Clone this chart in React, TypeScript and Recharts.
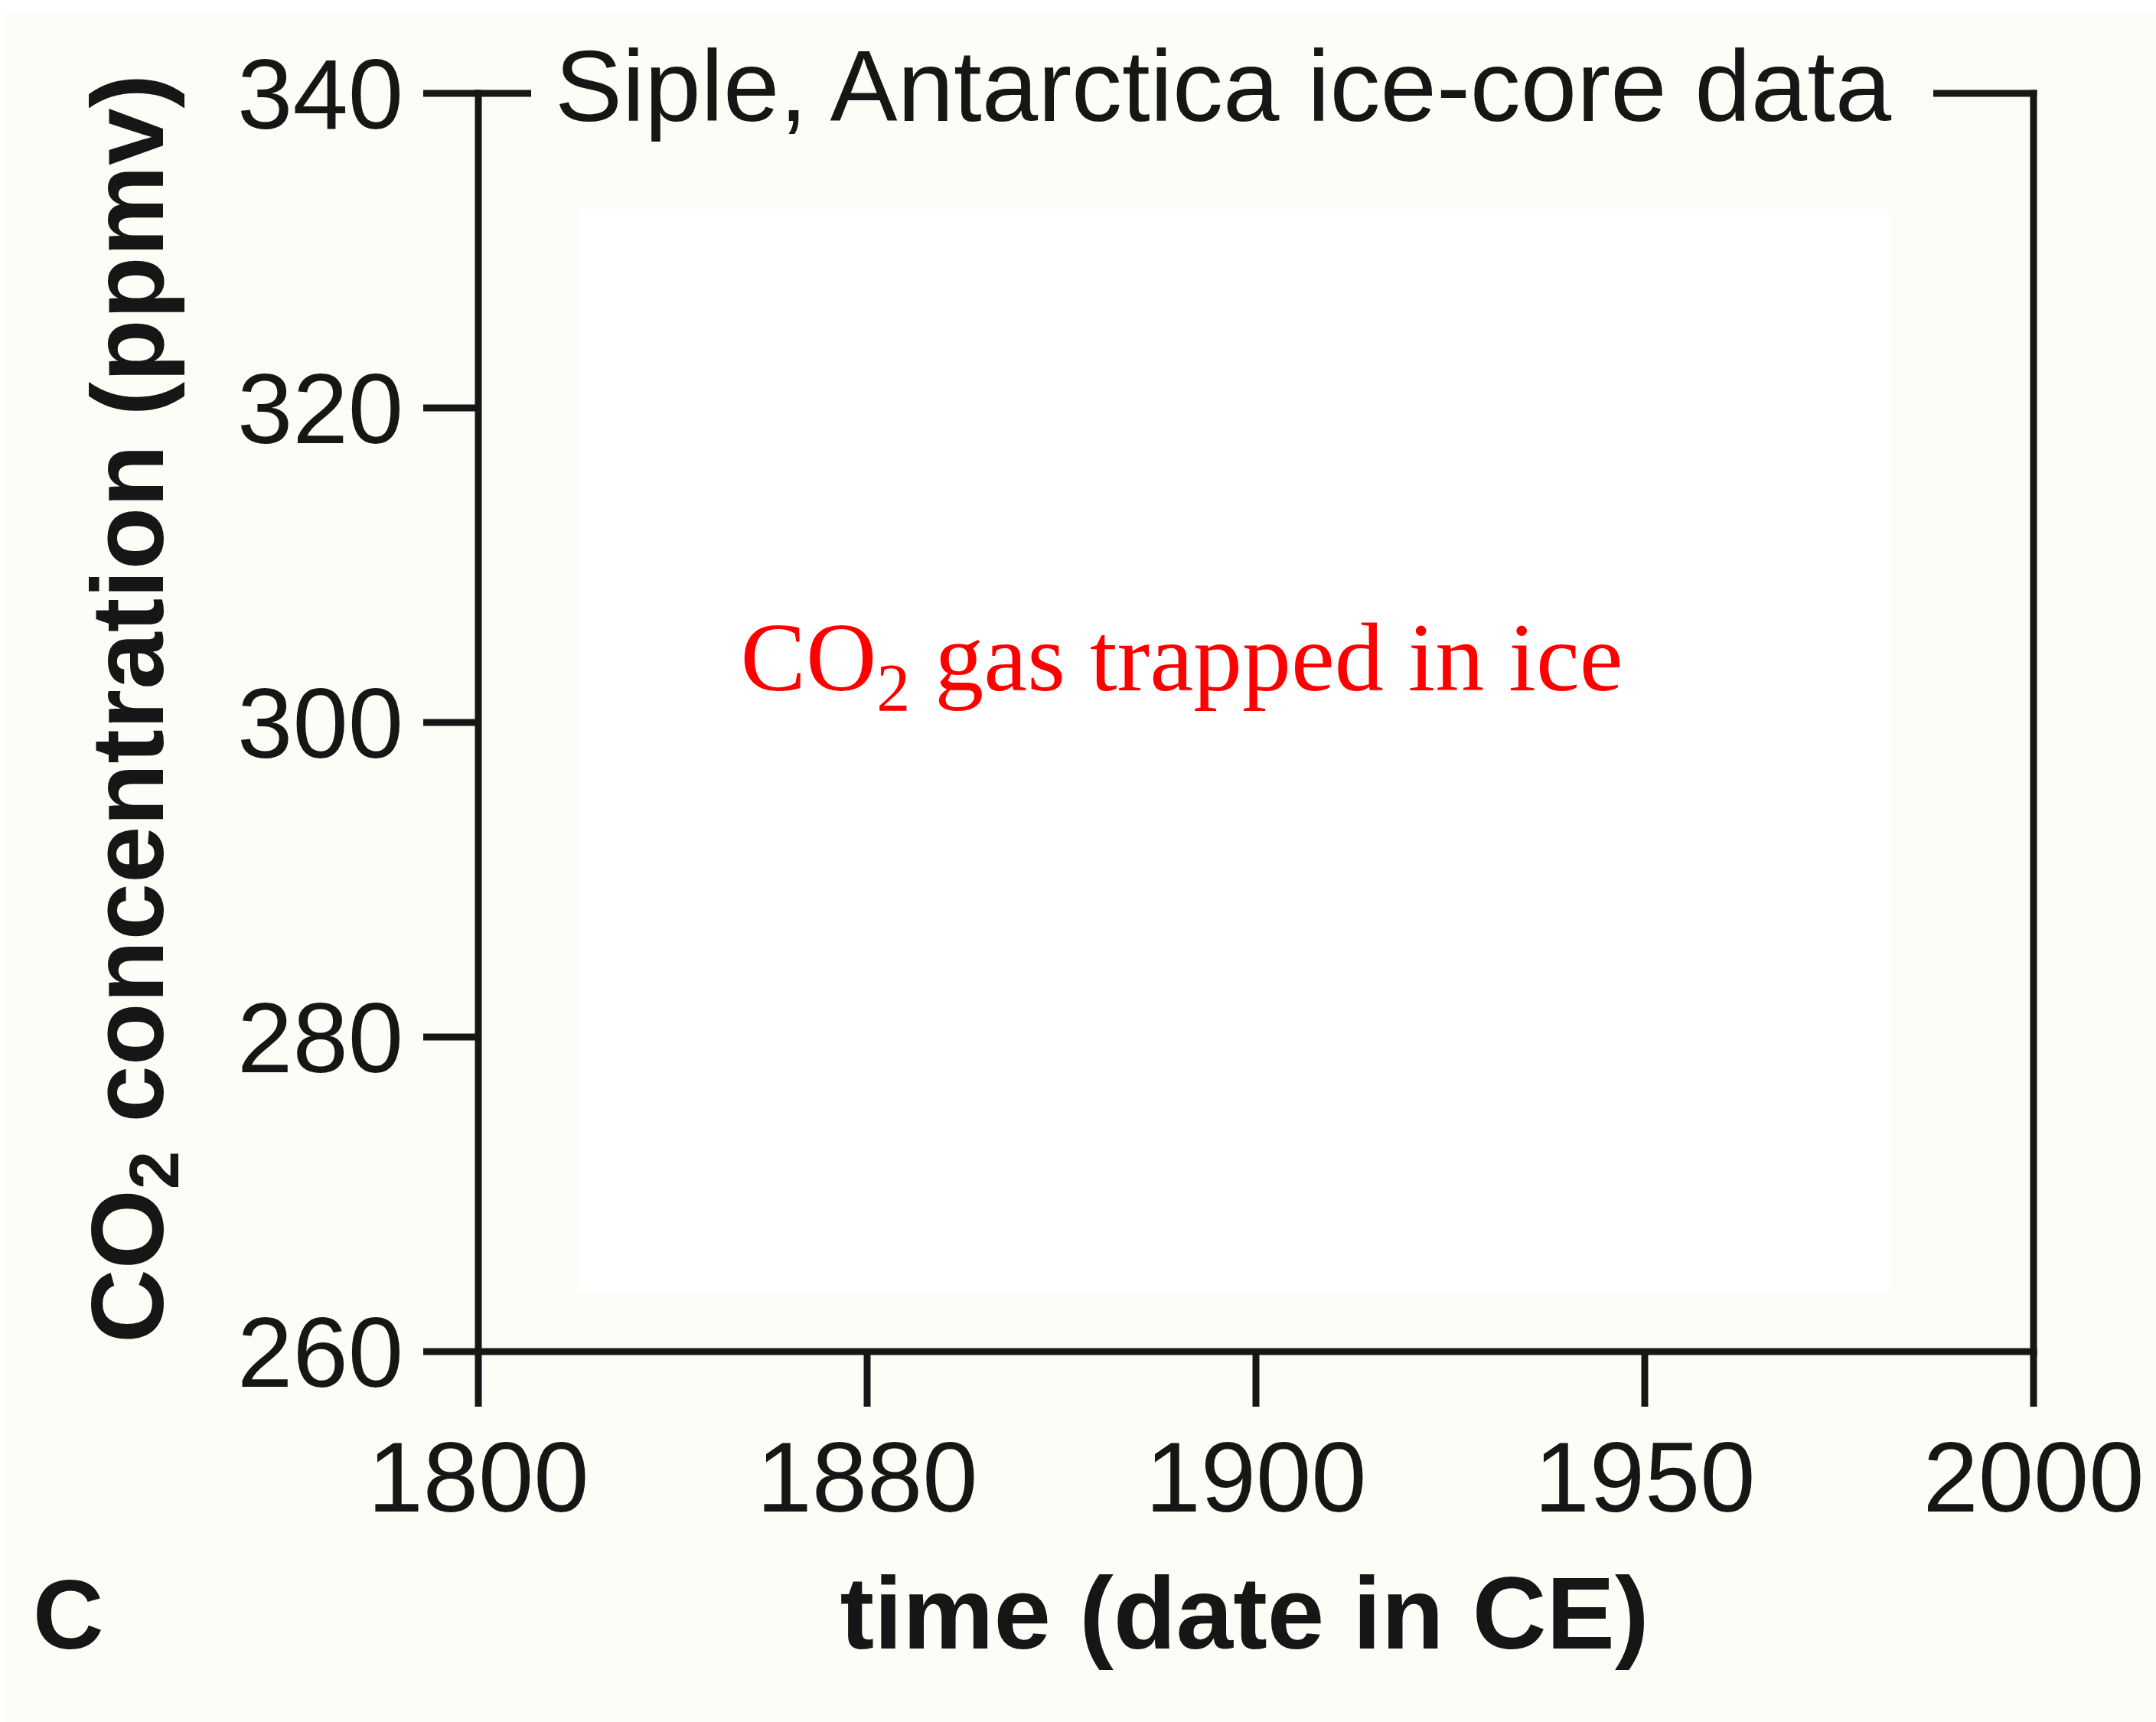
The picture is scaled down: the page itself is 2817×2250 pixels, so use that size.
import React from 'react';
import { LineChart, Line, XAxis, YAxis, Label, ReferenceLine } from 'recharts';

// ---- data ----
const years = ['1800', '1880', '1900', '1950', '2000'];
// The panel is an empty frame: no CO2 values are plotted in the reference.
const co2Ppmv: (number | null)[] = [null, null, null, null, null];
const yTicks = [260, 280, 300, 320, 340];
const yDomain: [number, number] = [260, 340];
const frameTop = 340;
const frameRight = '2000';

const titleText = 'Siple, Antarctica ice-core data';
const xTitleText = 'time (date in CE)';
const panelLetter = 'C';
const yTitleParts = ['CO', '2', ' concentration (ppmv)'];
const annotationParts = ['CO', '2', ' gas trapped in ice'];

const data = years.map((year, i) => ({ year, co2: co2Ppmv[i] }));

// ---- styles ----
const W = 2817;
const H = 2250;
const INK = '#161616';
const CREAM = '#fdfdf7';
const SANS = '"Liberation Sans", Arial, Helvetica, sans-serif';
const SERIF = '"Liberation Serif", "Times New Roman", Times, serif';
const AXIS_W = 9;

const TopTitle = () => (
  <g>
    <rect x={694} y={104} width={1832} height={36} fill={CREAM} />
    <text x={725} y={158} fontSize={132} fontFamily={SANS} fill={INK} textAnchor="start">
      {titleText}
    </text>
  </g>
);

const YTitle = () => (
  <text
    transform="rotate(-90, 213, 926)"
    x={213}
    y={926}
    textAnchor="middle"
    fontSize={134}
    fontWeight="bold"
    fontFamily={SANS}
    fill={INK}
  >
    <tspan>{yTitleParts[0]}</tspan>
    <tspan fontSize={90} dy={20}>{yTitleParts[1]}</tspan>
    <tspan dy={-20}>{yTitleParts[2]}</tspan>
  </text>
);

const XTitle = () => (
  <g>
    <text x={1626} y={2154} textAnchor="middle" fontSize={134} fontWeight="bold" fontFamily={SANS} fill={INK}>
      {xTitleText}
    </text>
    <text x={43} y={2154} textAnchor="start" fontSize={128} fontWeight="bold" fontFamily={SANS} fill={INK}>
      {panelLetter}
    </text>
  </g>
);

const Annotation = () => (
  <text x={1544} y={902} textAnchor="middle" fontSize={128} fontFamily={SERIF} fill="#ff0000">
    <tspan>{annotationParts[0]}</tspan>
    <tspan fontSize={88} dy={26}>{annotationParts[1]}</tspan>
    <tspan dy={-26}>{annotationParts[2]}</tspan>
  </text>
);

const tickStyle = { fontSize: 130, fill: INK, fontFamily: SANS };
const axisLineStyle = { stroke: INK, strokeWidth: AXIS_W, strokeLinecap: 'square' as const };
const tickLineStyle = { stroke: INK, strokeWidth: AXIS_W };

export default function App() {
  return (
    <div style={{ position: 'absolute', left: 0, top: 0, width: W, height: H, background: '#ffffff', overflow: 'hidden' }}>
      <div style={{ position: 'absolute', left: 8, top: 17, width: W - 8, height: H - 17, background: CREAM }} />
      <div style={{ position: 'absolute', left: 755, top: 273, width: 1714, height: 1415, background: '#ffffff' }} />
      <div style={{ position: 'absolute', left: 0, top: 0 }}>
        <LineChart
          width={W}
          height={H}
          data={data}
          margin={{ top: 122, right: 160, bottom: 184, left: 125 }}
        >
          <XAxis
            dataKey="year"
            type="category"
            scale="point"
            interval={0}
            height={300}
            tickSize={72}
            tickMargin={45}
            tick={tickStyle}
            stroke={INK}
            strokeWidth={AXIS_W}
            axisLine={axisLineStyle}
            tickLine={tickLineStyle}
          >
            <Label content={<XTitle />} />
          </XAxis>
          <YAxis
            type="number"
            domain={yDomain}
            ticks={yTicks}
            allowDataOverflow
            width={500}
            tickSize={72}
            tickMargin={26}
            tick={tickStyle}
            stroke={INK}
            strokeWidth={AXIS_W}
            axisLine={axisLineStyle}
            tickLine={tickLineStyle}
          >
            <Label content={<YTitle />} />
          </YAxis>
          <ReferenceLine
            x={frameRight}
            stroke={INK}
            strokeWidth={AXIS_W}
            strokeLinecap="square"
            ifOverflow="visible"
            label={<Annotation />}
          />
          <ReferenceLine
            y={frameTop}
            stroke={INK}
            strokeWidth={AXIS_W}
            strokeLinecap="square"
            ifOverflow="visible"
            label={<TopTitle />}
          />
          <Line
            dataKey="co2"
            stroke={INK}
            strokeWidth={6}
            dot={false}
            isAnimationActive={false}
          />
        </LineChart>
      </div>
    </div>
  );
}
